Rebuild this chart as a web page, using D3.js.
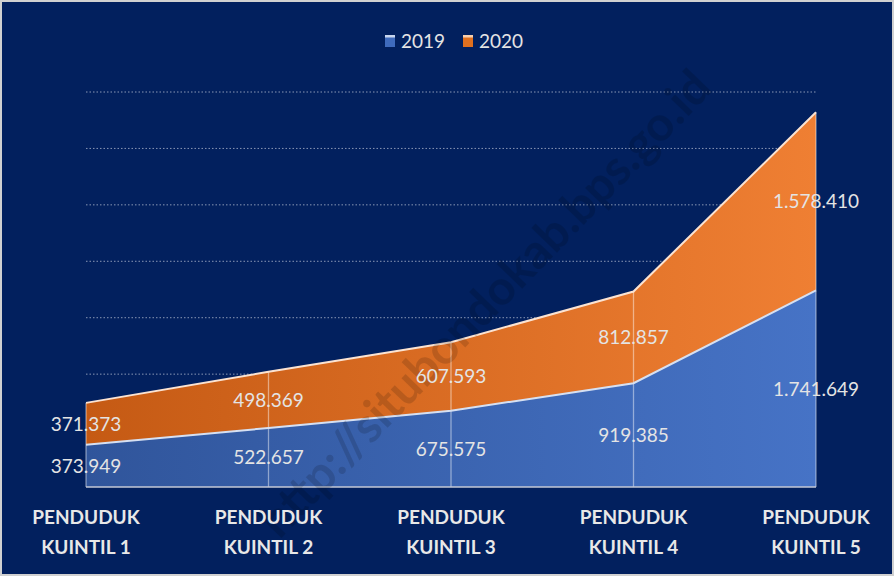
<!DOCTYPE html>
<html lang="id">
<head>
<meta charset="UTF-8">
<title>Penduduk Kuintil 2019-2020</title>
<script src="https://d3js.org/d3.v7.min.js"></script>
<style>
    body { margin: 0; background: #ffffff; }
    svg { display: block; font-family: Lato, "Open Sans", sans-serif; }
</style>
</head>
<body>
<div id="chart"></div>
<script>
    // data
    const categories = ["PENDUDUK KUINTIL 1", "PENDUDUK KUINTIL 2", "PENDUDUK KUINTIL 3", "PENDUDUK KUINTIL 4", "PENDUDUK KUINTIL 5"];
    const values2019 = [373949, 522657, 675575, 919385, 1741649];
    const values2020 = [371373, 498369, 607593, 812857, 1578410];
    const seriesNames = ["2019", "2020"];
    const yTicks = [0, 500000, 1000000, 1500000, 2000000, 2500000, 3000000, 3500000];

    const width = 894, height = 576;
    const margin = { top: 92, right: 78, bottom: 89, left: 86 };

    const svg = d3.select("#chart").append("svg")
        .attr("width", width).attr("height", height);

    const defs = svg.append("defs");
    const grad = (id, c0, c1) => {
        const g = defs.append("linearGradient").attr("id", id)
            .attr("x1", "0%").attr("x2", "100%").attr("y1", "0%").attr("y2", "0%");
        g.append("stop").attr("offset", "0%").attr("stop-color", c0);
        g.append("stop").attr("offset", "100%").attr("stop-color", c1);
    };
    grad("gBlue", "#30559b", "#4673c6");
    grad("gOrange", "#c55a14", "#ef7f33");

    // frame + background
    svg.append("rect").attr("width", width).attr("height", height).attr("fill", "#d0d0d0");
    svg.append("rect").attr("x", 2).attr("y", 2).attr("width", width - 4).attr("height", height - 4)
        .attr("fill", "#02205e");

    const x = d3.scalePoint().domain(categories).range([margin.left, width - margin.right]);
    const y = d3.scaleLinear().domain([0, 3500000]).range([height - margin.bottom, margin.top]);

    // dotted gridlines
    svg.append("g").selectAll("line").data(yTicks.slice(1)).enter().append("line")
        .attr("x1", margin.left).attr("x2", width - margin.right)
        .attr("y1", d => y(d)).attr("y2", d => y(d))
        .attr("stroke", "#8a97b5").attr("stroke-width", 1).attr("stroke-dasharray", "1.5,2");

    const rows = categories.map((c, i) => ({ cat: c, s2019: values2019[i], s2020: values2020[i] }));
    const stack = d3.stack().keys(["s2019", "s2020"])(rows);

    const area = d3.area()
        .x(d => x(d.data.cat))
        .y0(d => y(d[0]))
        .y1(d => y(d[1]));

    const fills = ["url(#gBlue)", "url(#gOrange)"];
    const edges = ["#d6e0f2", "#fbe3d2"];

    svg.append("g").selectAll("path").data(stack).enter().append("path")
        .attr("d", area)
        .attr("fill", (d, i) => fills[i]);

    // vertical drop lines
    svg.append("g").selectAll("line").data(rows).enter().append("line")
        .attr("x1", d => x(d.cat)).attr("x2", d => x(d.cat))
        .attr("y1", y(0)).attr("y2", d => y(d.s2019 + d.s2020))
        .attr("stroke", "#ffffff").attr("stroke-opacity", 0.45).attr("stroke-width", 1.3);

    // top edge lines
    const line = d3.line().x(d => x(d.data.cat)).y(d => y(d[1]));
    svg.append("g").selectAll("path").data(stack).enter().append("path")
        .attr("d", line)
        .attr("fill", "none")
        .attr("stroke", (d, i) => edges[i])
        .attr("stroke-width", 2);

    // baseline
    svg.append("line")
        .attr("x1", margin.left).attr("x2", width - margin.right)
        .attr("y1", y(0)).attr("y2", y(0))
        .attr("stroke", "#c4c9d6").attr("stroke-width", 1.5);

    // faint watermark
    svg.append("text")
        .attr("transform", "translate(714,90) rotate(-46)")
        .attr("text-anchor", "end")
        .attr("fill", "#000000").attr("fill-opacity", 0.14)
        .style("font-size", "48px").style("font-weight", "bold")
        .text("http://situbondokab.bps.go.id");

    // data labels
    const fmt = v => d3.format(",")(v).replace(/,/g, ".");
    stack.forEach(s => {
        svg.append("g").selectAll("text").data(s).enter().append("text")
            .attr("x", d => x(d.data.cat))
            .attr("y", d => (y(d[0]) + y(d[1])) / 2)
            .attr("dy", "0.36em")
            .attr("text-anchor", "middle")
            .attr("fill", "#e4e4e4")
            .style("font-size", "19px")
            .text(d => fmt(d[1] - d[0]));
    });

    // category labels (two lines)
    const catText = svg.append("g").selectAll("text").data(categories).enter().append("text")
        .attr("x", d => x(d))
        .attr("y", 524)
        .attr("text-anchor", "middle")
        .attr("fill", "#e8e8e8")
        .style("font-size", "19px")
        .style("font-weight", "bold");
    catText.append("tspan").attr("x", d => x(d)).text(d => d.split(" ")[0]);
    catText.append("tspan").attr("x", d => x(d)).attr("dy", 30).text(d => d.split(" ").slice(1).join(" "));

    // legend
    const legend = svg.append("g");
    const legX = [385, 463];
    seriesNames.forEach((n, i) => {
        legend.append("rect").attr("x", legX[i]).attr("y", 35).attr("width", 10).attr("height", 12)
            .attr("fill", i === 0 ? "#3f6bbd" : "#e0701f");
        legend.append("rect").attr("x", legX[i]).attr("y", 35).attr("width", 10).attr("height", 2.5)
            .attr("fill", i === 0 ? "#c9d6ef" : "#f8cfae");
        legend.append("text").attr("x", legX[i] + 16).attr("y", 48)
            .attr("fill", "#e4e4e4").style("font-size", "19px").text(n);
    });
</script>
</body>
</html>
